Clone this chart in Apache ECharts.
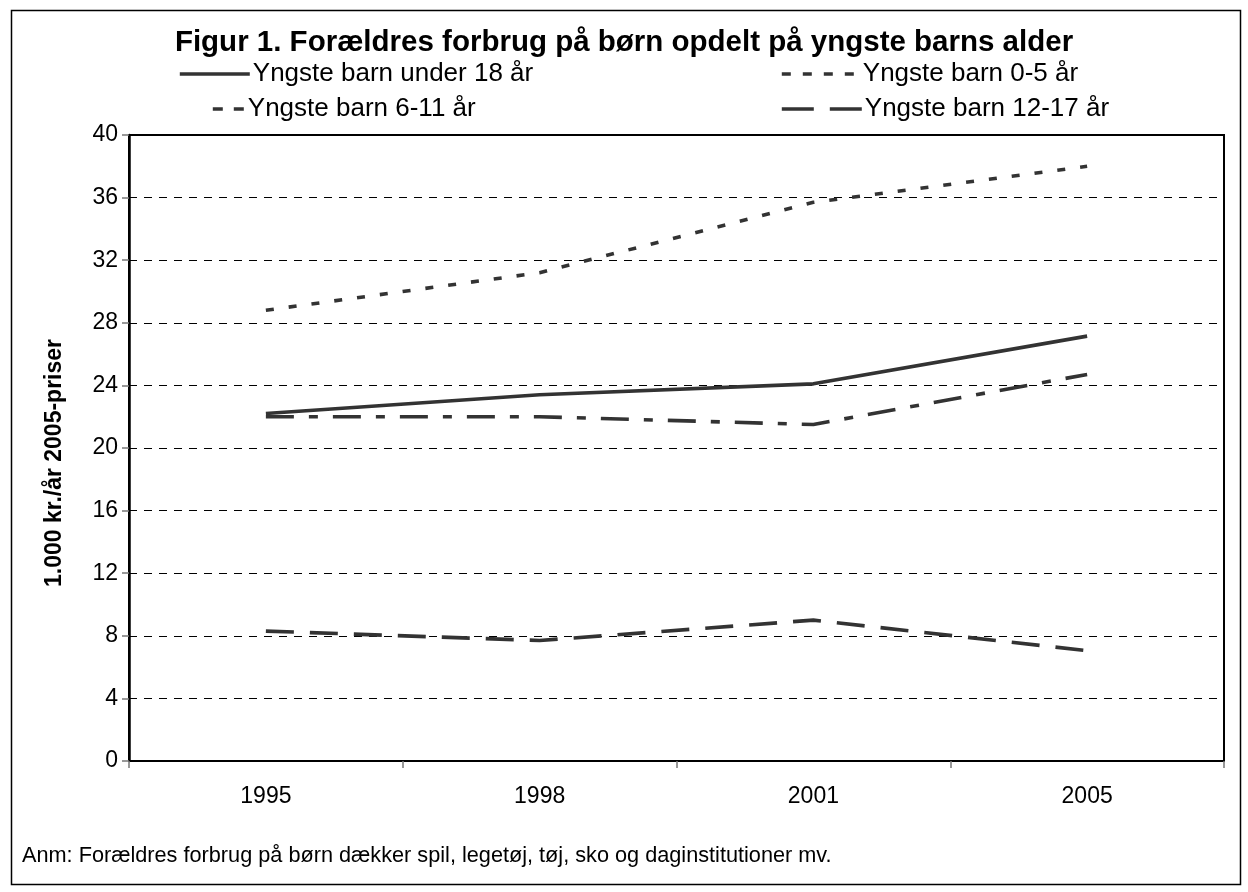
<!DOCTYPE html>
<html>
<head>
<meta charset="utf-8">
<script src="https://cdn.jsdelivr.net/npm/echarts@6/dist/echarts.min.js"></script>
<style>
html,body{margin:0;padding:0;background:#fff;}
#chart{width:1248px;height:892px;}
</style>
</head>
<body>
<div id="chart"></div>
<script>
const categories = ['1995', '1998', '2001', '2005'];
const seriesNames = ['Yngste barn under 18 år', 'Yngste barn 0-5 år', 'Yngste barn 6-11 år', 'Yngste barn 12-17 år'];
const under18 = [22.2, 23.4, 24.1, 27.15];
const age0to5 = [28.8, 31.2, 35.7, 38.0];
const age6to11 = [22.0, 22.0, 21.5, 24.7];
const age12to17 = [8.3, 7.7, 9.0, 7.05];
const yTicks = {min: 0, max: 40, interval: 4};
const titleText = 'Figur 1. Forældres forbrug på børn opdelt på yngste barns alder';
const yAxisName = '1.000 kr./år 2005-priser';
const noteText = 'Anm: Forældres forbrug på børn dækker spil, legetøj, tøj, sko og daginstitutioner mv.';

const FONT = '"Liberation Sans", Arial, sans-serif';
const INK = '#333333';
const dashStyles = {
  solid: 'solid',
  dot: [8, 15],
  dashDot: [28, 15, 9, 15],
  longDash: [28, 16]
};

const chart = echarts.init(document.getElementById('chart'), null, {renderer: 'canvas'});

function mkSeries(name, data, type) {
  return {
    name: name,
    type: 'line',
    data: data,
    symbol: 'none',
    smooth: false,
    lineStyle: {color: INK, width: 3.6, type: type, cap: 'butt'},
    itemStyle: {color: INK},
    z: 3
  };
}

function mkLegend(name, left, top, width, lineType) {
  return {
    show: true,
    left: left,
    top: top,
    orient: 'horizontal',
    itemWidth: width,
    itemHeight: 14,
    padding: 0,
    selectedMode: false,
    lineStyle: {type: lineType, width: 3.6, color: INK, cap: 'butt'},
    itemStyle: {color: 'rgba(0,0,0,0)', borderWidth: 0, opacity: 0},
    data: [name],
    textStyle: {fontFamily: FONT, fontSize: 26, color: '#000', padding: [0, 0, 0, -2]}
  };
}

const option = {
  animation: false,
  backgroundColor: '#fff',
  textStyle: {fontFamily: FONT},
  title: {
    text: titleText,
    left: 'center',
    top: 23,
    textStyle: {fontFamily: FONT, fontSize: 29.5, fontWeight: 'bold', color: '#000'}
  },
  legend: [
    mkLegend(seriesNames[0], 178, 61, 70, dashStyles.solid),
    mkLegend(seriesNames[1], 780, 61, 78, [9, 12]),
    mkLegend(seriesNames[2], 211, 96, 32, [10, 11]),
    mkLegend(seriesNames[3], 780, 96, 80, [32, 16])
  ],
  grid: {
    left: 129,
    right: 24,
    top: 135,
    bottom: 131,
    show: true,
    borderColor: '#000',
    borderWidth: 2,
    backgroundColor: 'transparent'
  },
  xAxis: {
    type: 'category',
    data: categories,
    boundaryGap: true,
    axisLine: {show: true, lineStyle: {color: '#000', width: 2}},
    axisTick: {show: true, interval: 0, length: 7, lineStyle: {color: '#777', width: 1.5}},
    axisLabel: {fontFamily: FONT, fontSize: 23, color: '#000', margin: 24, interval: 0},
    splitLine: {show: false}
  },
  yAxis: {
    type: 'value',
    min: yTicks.min,
    max: yTicks.max,
    interval: yTicks.interval,
    name: yAxisName,
    nameLocation: 'middle',
    nameGap: 63,
    nameRotate: 90,
    nameTextStyle: {fontFamily: FONT, fontSize: 23, fontWeight: 'bold', color: '#000', padding: [0, 30, 0, 0]},
    axisLine: {show: true, lineStyle: {color: '#000', width: 2.5}},
    axisTick: {show: true, length: 7, lineStyle: {color: '#777', width: 1.5}},
    axisLabel: {fontFamily: FONT, fontSize: 23, color: '#000', margin: 11},
    splitLine: {show: true, lineStyle: {color: '#000', width: 1, type: [8, 7]}}
  },
  series: [
    mkSeries(seriesNames[0], under18, dashStyles.solid),
    mkSeries(seriesNames[1], age0to5, dashStyles.dot),
    mkSeries(seriesNames[2], age6to11, dashStyles.dashDot),
    mkSeries(seriesNames[3], age12to17, dashStyles.longDash)
  ],
  graphic: [
    {
      type: 'rect',
      left: 9, top: 8, z: 100, silent: true,
      shape: {x: 0, y: 0, width: 1229, height: 874},
      style: {fill: 'none', stroke: '#000', lineWidth: 1.5}
    },
    {
      type: 'text',
      left: 22, top: 845, z: 100,
      style: {text: noteText, font: '21.7px ' + FONT, fill: '#000'}
    }
  ]
};

chart.setOption(option);
</script>
</body>
</html>
